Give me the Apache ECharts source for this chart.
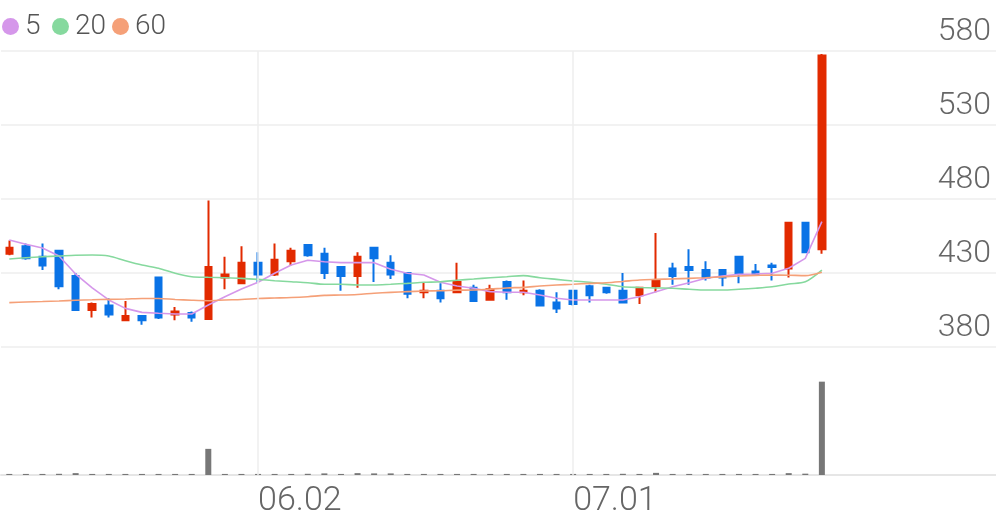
<!DOCTYPE html>
<html>
<head>
<meta charset="utf-8">
<script src="https://cdn.jsdelivr.net/npm/echarts@6/dist/echarts.min.js"></script>
<style>
html,body{margin:0;padding:0;background:#fff;}
#chart{width:996px;height:519px;}
</style>
</head>
<body>
<div id="chart"></div>
<script>
// ---- data ----
const dates = ['05.12','05.13','05.14','05.15','05.16','05.19','05.20','05.21','05.22','05.23',
  '05.26','05.27','05.28','05.29','05.30','06.02','06.04','06.05','06.09','06.10',
  '06.11','06.12','06.13','06.16','06.17','06.18','06.19','06.20','06.23','06.24',
  '06.25','06.26','06.27','06.30','07.01','07.02','07.03','07.04','07.07','07.08',
  '07.09','07.10','07.11','07.14','07.15','07.16','07.17','07.18','07.21','07.22'];
const padSlots = 10;
const openP  = [443,448,441,445,428,405,408,398,401,427, 402,403,399,427,423,437,429,438,449,443, 434,428,447,437,430,417,418,417,420,412, 424,417,418,410,418,421,420,418,415,421, 433,434,432,432,441,431,435,433,464,446];
const closeP = [447,440,435,421,405,409,402,401,398,400, 404,400,434,429,437,429,439,445,442,430, 428,441,440,429,416,418,413,424,411,419, 417,418,408,406,409,415,417,410,420,425, 428,432,427,427,430,429,434,464,444,577];
const lowP   = [442,439,432,419,405,400,400,398,395,399, 398,397,399,419,423,423,428,435,441,426, 418,420,424,426,413,413,410,417,411,412, 412,415,408,403,408,410,416,410,409,417, 422,422,425,421,423,428,425,427,444,443];
const highP  = [452,450,450,445,430,410,413,411,401,427, 407,404,479,441,448,444,450,447,449,447, 434,444,447,442,430,424,423,437,422,422, 425,425,419,417,418,422,420,430,420,457, 437,446,438,432,441,436,437,464,464,578];
const ma5  = [452.3,449.4,446.9,441.5,429.3,419.9,411.8,406.1,403.4,402.8,402.3,402.3,408.4,414.0,419.2,423.7,429.8,435.4,438.6,437.6,437.0,437.0,437.0,432.5,429.8,428.6,423.7,421.2,419.7,417.4,417.0,417.0,415.1,412.9,411.8,411.8,411.8,411.8,414.0,417.4,420.7,423.4,426.4,428.0,429.1,429.3,429.8,433.2,439.9,464.7];
const ma20 = [439.5,440.3,441.0,441.5,442.0,442.2,441.5,438.3,435.4,433.2,429.8,427.5,427.1,426.8,426.4,425.7,424.8,424.1,423.4,422.4,422.4,421.9,421.9,422.4,423.0,423.7,424.1,425.1,425.9,426.8,427.5,428.2,426.8,425.7,424.6,423.7,422.4,420.7,420.2,419.9,419.7,419.0,418.5,418.5,419.0,419.7,420.7,422.6,424.1,432.0];
const ma60 = [410.0,410.4,410.7,411.1,411.6,411.9,412.2,412.4,412.8,412.8,412.1,411.6,411.3,411.8,412.1,412.8,413.1,413.4,414.0,414.9,415.1,415.5,416.3,416.9,417.4,417.8,418.0,418.4,418.5,419.1,419.9,420.3,421.2,421.9,422.4,423.0,423.4,424.3,425.3,425.7,426.0,426.4,426.8,427.4,428.0,428.4,428.6,428.5,428.2,430.5];
const volume = [40,40,40,45,70,40,40,40,40,40, 40,40,980,40,40,40,40,40,45,60, 40,70,60,60,40,40,40,40,40,40, 40,40,40,40,40,40,40,45,40,80, 40,40,40,40,40,40,40,70,50,3500];
const xTickLabels = ['06.02','07.01'];
const yTicks = {min:380, max:580, interval:50};
const maNames = ['5','20','60'];

// ---- styles ----
const UP = '#e22a00', DOWN = '#0a73e6';
const MA_COLORS = ['#d597ea','#86d99e','#f5a078'];
const GRID_COLOR = '#eeeeee';
const FONT = 'Roboto, "Noto Sans", sans-serif';

const cats = dates.concat(Array(padSlots).fill(''));
const candleData = openP.map((o,i)=>[o, closeP[i], lowP[i], highP[i]]);
const vLines = {
  silent:true, symbol:['none','none'], animation:false,
  label:{show:false},
  lineStyle:{color:GRID_COLOR, width:1.5, type:'solid'},
  data: xTickLabels.map(d=>({xAxis:d}))
};

const legendLefts = [2, 52, 112];
const legends = maNames.map((n,i)=>({
  data:[n], left:legendLefts[i], top:11, padding:0,
  icon:'circle', itemWidth:17, itemHeight:17, selectedMode:false,
  textStyle:{color:'#555', fontSize:28, fontWeight:300, fontFamily:FONT, lineHeight:31, padding:[0,0,0,1]}
}));

const chart = echarts.init(document.getElementById('chart'), null, {renderer:'canvas'});
chart.setOption({
  animation:false,
  backgroundColor:'#fff',
  legend: legends,
  grid:[
    {left:1, right:0, top:51, height:296},
    {left:1, right:0, top:347, height:128}
  ],
  xAxis:[
    {type:'category', gridIndex:0, data:cats, boundaryGap:true, show:false},
    {type:'category', gridIndex:1, data:cats, boundaryGap:true,
      axisLine:{show:true, lineStyle:{color:'#e6e6e6', width:2}},
      axisTick:{show:false},
      splitLine:{show:false},
      axisLabel:{
        interval:(idx,val)=>xTickLabels.indexOf(val)>=0,
        align:'left', color:'#666', fontSize:34, fontWeight:300, fontFamily:FONT, margin:9
      }
    }
  ],
  yAxis:[
    {type:'value', gridIndex:0, position:'right', min:yTicks.min, max:yTicks.max, interval:yTicks.interval,
      axisLine:{show:false}, axisTick:{show:false},
      splitLine:{show:true, lineStyle:{color:GRID_COLOR, width:1.5}},
      axisLabel:{inside:true, margin:5, verticalAlign:'bottom', color:'#666', fontSize:32, fontWeight:300, fontFamily:FONT, padding:[0,0,3,0]}
    },
    {type:'value', gridIndex:1, min:0, max:4800, show:false, splitLine:{show:false}}
  ],
  series:[
    {type:'candlestick', name:'price', xAxisIndex:0, yAxisIndex:0, data:candleData,
      barWidth:7,
      itemStyle:{color:UP, color0:DOWN, borderColor:UP, borderColor0:DOWN, borderWidth:2},
      markLine:vLines
    },
    {type:'line', name:maNames[0], xAxisIndex:0, yAxisIndex:0, data:ma5, symbol:'none', smooth:false,
      color:MA_COLORS[0], lineStyle:{width:1.6, color:MA_COLORS[0]}},
    {type:'line', name:maNames[1], xAxisIndex:0, yAxisIndex:0, data:ma20, symbol:'none', smooth:0.3,
      color:MA_COLORS[1], lineStyle:{width:1.6, color:MA_COLORS[1]}},
    {type:'line', name:maNames[2], xAxisIndex:0, yAxisIndex:0, data:ma60, symbol:'none', smooth:0.3,
      color:MA_COLORS[2], lineStyle:{width:1.6, color:MA_COLORS[2]}},
    {type:'bar', name:'volume', xAxisIndex:1, yAxisIndex:1, data:volume, barWidth:6,
      itemStyle:{color:'#777777'}, markLine:vLines}
  ]
});
</script>
</body>
</html>
